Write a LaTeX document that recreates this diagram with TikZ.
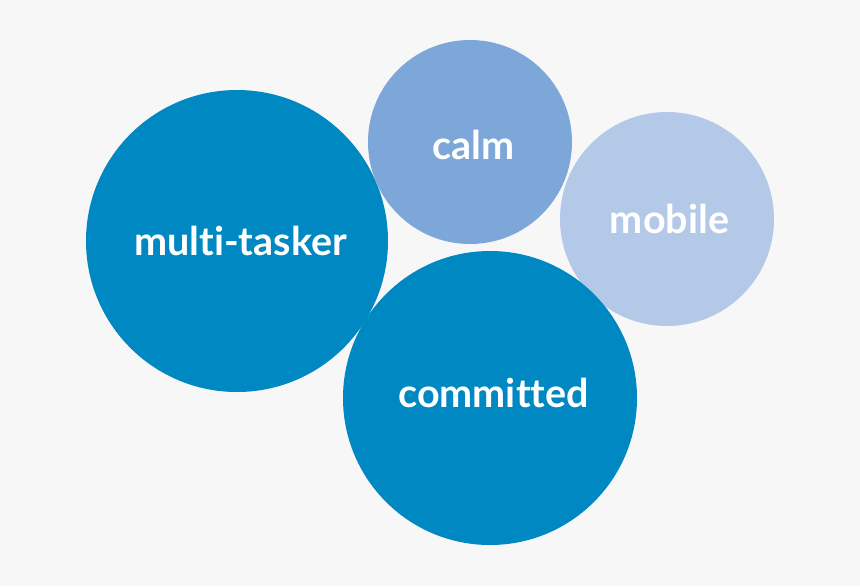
\documentclass[tikz,border=0pt]{standalone}
\usepackage{fontspec}
\setmainfont[Ligatures=NoCommon]{Lato}
\usepackage{xcolor}
\usepackage{tikz}
\definecolor{bgGray}{HTML}{F7F7F7}
\definecolor{deepBlue}{HTML}{0088C3}
\definecolor{midBlue}{HTML}{7DA6D9}
\definecolor{paleBlue}{HTML}{B4C9E8}

\begin{document}
\begin{tikzpicture}[x=0.02cm, y=-0.02cm,
  bubble/.style={circle, inner sep=0pt, text=white, font=\fontsize{22.5}{26}\selectfont\bfseries}]
\fill[bgGray] (0,0) rectangle (860,586);
\useasboundingbox (0,0) rectangle (860,586);
% bubbles: name/x/y/radius/colour/label
\foreach \n/\x/\y/\r/\c/\t in {multi/237/241/151/deepBlue/multi-tasker, calm/470/142/102/midBlue/calm, mobile/667/219/107/paleBlue/mobile, committed/490/398/147/deepBlue/committed} {
  \node[bubble, fill=\c, minimum size=2*\r*0.02cm] (\n) at (\x,\y) {};
}
% labels, a little off the centres as printed
\node[bubble] (multiLbl) at ([xshift=0.07cm]multi) {multi-tasker};
\node[bubble] (calmLbl) at ([xshift=0.07cm,yshift=-0.06cm]calm) {calm};
\node[bubble] (mobileLbl) at ([xshift=0.05cm]mobile) {mobile};
\node[bubble] (committedLbl) at ([xshift=0.07cm,yshift=0.1cm]committed) {committed};
\end{tikzpicture}
\end{document}
